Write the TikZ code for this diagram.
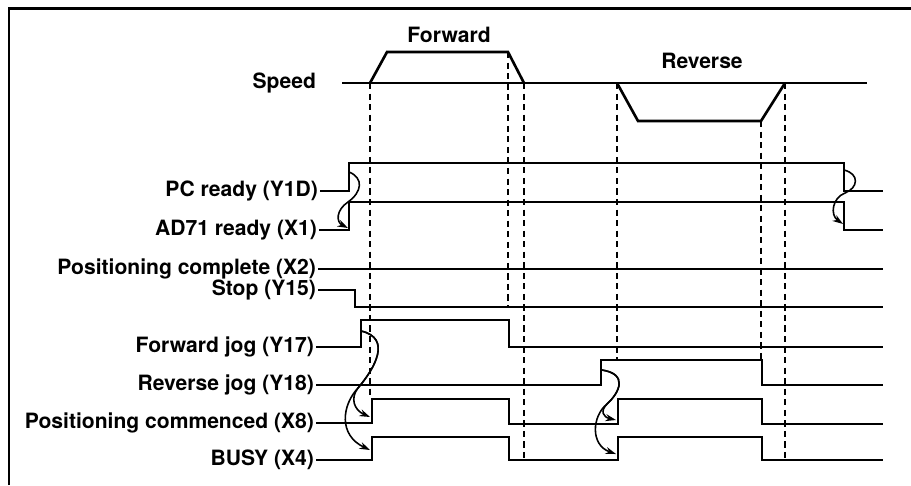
\documentclass[tikz,border=0pt]{standalone}
\usepackage{fontspec}
\setmainfont{TeX Gyre Heros}
\usetikzlibrary{arrows.meta,positioning}

\begin{document}
\begin{tikzpicture}[x=0.02cm,y=-0.02cm,
    sig/.style={line width=1.5pt},
    guide/.style={line width=0.9pt,dash pattern=on 3.5pt off 2.5pt},
    cause/.style={line width=0.9pt,-{Stealth[length=6pt,width=4pt]}},
    lbl/.style={font=\fontsize{12}{14}\selectfont\bfseries,anchor=east,inner sep=1pt}]
    \useasboundingbox (0,0) rectangle (911,485);
    % frame
    \draw[line width=1.7pt] (9,485) -- (9,8) -- (911,8);
    % labels
    \node[lbl] (speed) at (318,83) {Speed};
    \node[lbl,anchor=center] (fwd) at (449,35) {Forward};
    \node[lbl,anchor=center] (rev) at (702,61) {Reverse};
    \node[lbl] (pcr) at (320,191) {PC ready (Y1D)};
    \node[lbl] (adr) at (319,230) {AD71 ready (X1)};
    \node[lbl] (pcpl) at (318,269) {Positioning complete (X2)};
    \node[lbl] (stop) at (318,290) {Stop (Y15)};
    \node[lbl] (fjog) at (316,347) {Forward jog (Y17)};
    \node[lbl] (rjog) at (316,385) {Reverse jog (Y18)};
    \node[lbl] (pcmd) at (316,423) {Positioning commenced (X8)};
    \node[lbl] (busy) at (316,460) {BUSY (X4)};
    % speed profile
    \draw[sig] (342,83) -- (867,83);
    \draw[sig] (370,83) -- (387,52) -- (508,52) -- (524,83);
    \draw[sig] (617,83) -- (638,121) -- (761,121) -- (785,83);
    % dashed guides
    \draw[guide] (370,83) -- (370,399);
    \draw[guide] (508,52) -- (508,307);
    \draw[guide] (524,83) -- (524,460);
    \draw[guide] (617,83) -- (617,360);
    \draw[guide] (761,121) -- (761,360);
    \draw[guide] (785,83) -- (785,460);
    % signals
    \draw[sig] (pcr.east) -| (349,163) -- (844,163) |- (883,191);
    \draw[sig] (adr.east) -| (349,202) -- (844,202) |- (883,230);
    \draw[sig] (pcpl.east) -- (883,269);
    \draw[sig] (stop.east) -| (355,307) -- (883,307);
    \draw[sig] (fjog.east) -| (361,320) -- (509,320) |- (883,347);
    \draw[sig] (rjog.east) -| (601,360) -- (762,360) |- (883,385);
    \draw[sig] (pcmd.east) -| (372,399) -- (509,399) |- (618,424) -- (618,399) -- (762,399) |- (883,424);
    \draw[sig] (busy.east) -| (372,437) -- (509,437) |- (618,460) -- (618,437) -- (762,437) |- (883,460);
    % cause and effect
    \coordinate (pcron) at (349,172);
    \coordinate (adron) at (348,228);
    \coordinate (pcroff) at (844,170);
    \coordinate (adroff) at (843,224);
    \coordinate (fjon) at (361,331);
    \coordinate (fjmid) at (358,388);
    \coordinate (rjon) at (602,370);
    \coordinate (rjmid) at (607,404);
    \coordinate (pcmdf) at (370,417);
    \coordinate (busyf) at (370,450);
    \coordinate (pcmdr) at (616,420);
    \coordinate (busyr) at (616,454);
    \draw[cause] (pcron) .. controls (364,178) and (362,192) .. (348,202) .. controls (336,210) and (336,222) .. (adron);
    \draw[cause] (pcroff) .. controls (860,174) and (858,188) .. (845,193) .. controls (832,198) and (830,215) .. (adroff);
    \draw[cause] (fjon) .. controls (392,338) and (375,368) .. (fjmid) .. controls (350,398) and (354,410) .. (pcmdf);
    \draw[cause] (fjon) .. controls (392,338) and (375,368) .. (fjmid) .. controls (342,405) and (338,435) .. (busyf);
    \draw[cause] (rjon) .. controls (628,374) and (620,392) .. (rjmid) .. controls (600,411) and (603,417) .. (pcmdr);
    \draw[cause] (rjon) .. controls (628,374) and (620,392) .. (rjmid) .. controls (592,416) and (590,445) .. (busyr);
\end{tikzpicture}
\end{document}
